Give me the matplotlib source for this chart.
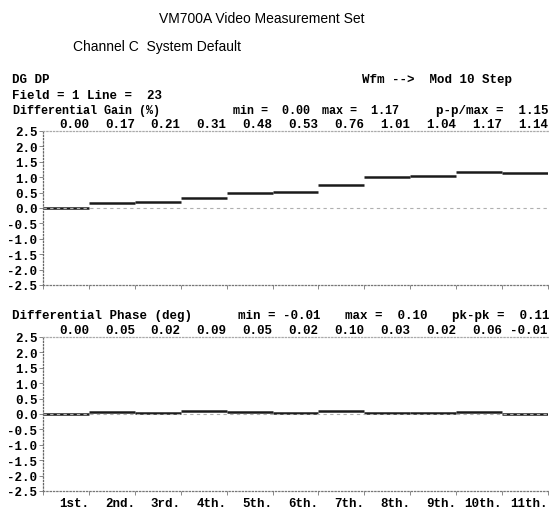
import matplotlib
matplotlib.use("Agg")
import matplotlib.pyplot as plt
import matplotlib.transforms as mtransforms
import numpy as np

# data
steps = ["1st.", "2nd.", "3rd.", "4th.", "5th.", "6th.", "7th.", "8th.", "9th.", "10th.", "11th."]
dg_vals = [0.00, 0.17, 0.21, 0.31, 0.48, 0.53, 0.76, 1.01, 1.04, 1.17, 1.14]
dp_vals = [0.00, 0.05, 0.02, 0.09, 0.05, 0.02, 0.10, 0.03, 0.02, 0.06, -0.01]
yticks = [2.5, 2.0, 1.5, 1.0, 0.5, 0.0, -0.5, -1.0, -1.5, -2.0, -2.5]

W, H = 550, 510
mono = {"family": "Liberation Mono", "weight": "bold", "size": 9}
mono_s = {"family": "Liberation Mono", "weight": "bold", "size": 8.5}
sans = {"family": "Liberation Sans", "size": 10}

fig = plt.figure(figsize=(W / 100, H / 100), dpi=100)


def px(x, y):
    # figure pixel coords (from top-left) -> figure fraction
    return x / W, 1 - y / H


def panel(top_px, bot_px, vals, show_labels):
    l, b = px(43, bot_px)
    _, t = px(43, top_px)
    ax = fig.add_axes([l, b, (548 - 43) / W, t - b])
    n = len(vals)
    x = np.arange(n)
    ax.hlines(vals, x, x + 1, color="#1a1a1a", lw=1.8)
    ax.axhline(0, color="#b0b0b0", lw=0.8, dashes=(3, 3))
    ax.set_xlim(0, n)
    ax.set_ylim(-2.5, 2.5)
    ax.set_yticks(yticks)
    ax.set_yticklabels([f"{v:.1f}" for v in yticks], fontdict=mono)
    ax.set_xticks(np.arange(n + 1))
    if show_labels:
        ax.set_xticklabels([""] + steps, fontdict=mono, ha="right")
    else:
        ax.set_xticklabels([])
    ax.tick_params(length=3, width=0.7, color="#888888", pad=1)
    for side in ["left", "bottom", "top"]:
        ax.spines[side].set_linestyle(":")
        ax.spines[side].set_linewidth(0.9)
    ax.spines["left"].set_color("#666666")
    ax.spines["bottom"].set_color("#777777")
    ax.spines["top"].set_color("#aaaaaa")
    ax.spines["right"].set_visible(False)
    trans = mtransforms.blended_transform_factory(ax.transData, ax.transAxes)
    for i, v in enumerate(vals):
        ax.text(i + 1, 1 + 7 / (bot_px - top_px), f"{v:.2f}", transform=trans,
                ha="right", va="center", fontdict=mono)
    return ax


panel(132, 286, dg_vals, False)
panel(338, 492, dp_vals, True)

# header texts
fig.text(*px(262, 19), "VM700A Video Measurement Set", ha="center", va="center", fontdict=sans)
fig.text(*px(73, 47), "Channel C  System Default", ha="left", va="center", fontdict=sans)
fig.text(*px(12, 80), "DG DP", ha="left", va="center", fontdict=mono)
fig.text(*px(362, 80), "Wfm -->  Mod 10 Step", ha="left", va="center", fontdict=mono)
fig.text(*px(12, 96), "Field = 1 Line =  23", ha="left", va="center", fontdict=mono)

fig.text(*px(13, 111), "Differential Gain (%)", ha="left", va="center", fontdict=mono_s)
fig.text(*px(233, 111), f"min = {min(dg_vals):5.2f}", ha="left", va="center", fontdict=mono_s)
fig.text(*px(322, 111), f"max = {max(dg_vals):5.2f}", ha="left", va="center", fontdict=mono_s)
fig.text(*px(549, 111), "p-p/max =  1.15", ha="right", va="center", fontdict=mono)

fig.text(*px(12, 316), "Differential Phase (deg)", ha="left", va="center", fontdict=mono)
fig.text(*px(238, 316), f"min = {min(dp_vals):5.2f}", ha="left", va="center", fontdict=mono)
fig.text(*px(345, 316), f"max = {max(dp_vals):5.2f}", ha="left", va="center", fontdict=mono)
fig.text(*px(549, 316), f"pk-pk = {max(dp_vals) - min(dp_vals):5.2f}", ha="right", va="center", fontdict=mono)

fig.savefig("out.png", dpi=100)
